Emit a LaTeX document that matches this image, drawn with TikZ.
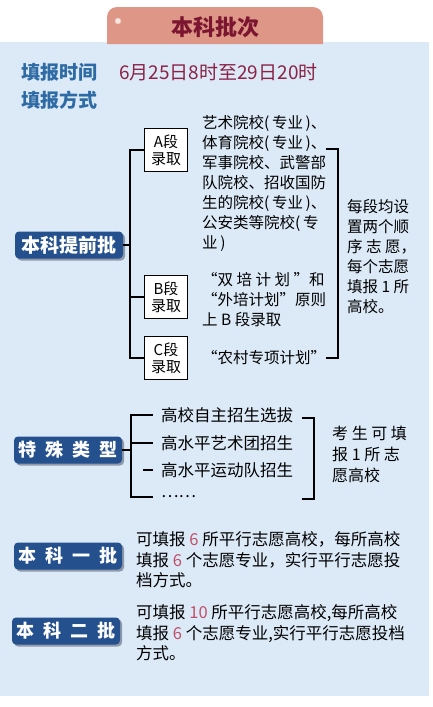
\documentclass[tikz,border=0pt]{standalone}
\usepackage{fontspec}
\setmainfont{Noto Sans CJK SC}
\usetikzlibrary{shadows}

\definecolor{panel}{HTML}{DCEAF8}
\definecolor{tabc}{HTML}{DE9686}
\definecolor{titlered}{HTML}{7B1530}
\definecolor{headblue}{HTML}{2E6BA5}
\definecolor{datered}{HTML}{8A2346}
\definecolor{boxblue}{HTML}{24508E}
\definecolor{shadowgray}{HTML}{8E99AA}
\definecolor{numred}{HTML}{C0506A}

\newcommand\gap{\hspace{9pt}}
\newcommand\num[1]{\textcolor{numred}{#1}}

\tikzset{
  lbl/.style={fill=boxblue, text=white, font=\fontsize{18}{20}\selectfont\bfseries,
    rounded corners=4pt, minimum width=108pt, minimum height=27pt, inner sep=0pt,
    drop shadow={shadow xshift=2pt, shadow yshift=-2pt, fill=shadowgray, opacity=1}},
  sel/.style={draw, line width=1.8pt, fill=white, align=center, inner sep=0pt,
    minimum width=43pt, minimum height=43pt, font=\fontsize{15}{17}\selectfont},
  txt/.style={anchor=west, align=left, inner sep=0pt, font=\fontsize{15.5}{20}\selectfont},
  item/.style={anchor=west, inner xsep=8pt, inner ysep=0pt, font=\fontsize{16.5}{20}\selectfont},
  brk/.style={line width=1.8pt}
}

\begin{document}
\begin{tikzpicture}[x=1pt, y=-1pt]
  \useasboundingbox (0,0) rectangle (432,707);
  \fill[panel] (0,42) rectangle (429,696);
  \fill[tabc] (107,44) [rounded corners=10pt] -- (107,7) -- (323,7) [sharp corners] -- (323,44) -- cycle;
  \filldraw[fill=white!75!tabc, draw=white!40!tabc] (118,21) circle (3pt);
  \node[font=\fontsize{22}{24}\selectfont\bfseries, text=titlered] (ttl) at (215,27) {本科批次};

  \node[anchor=west, inner sep=0pt, font=\fontsize{19}{20}\selectfont\bfseries, text=headblue] (time) at (21,72) {填报时间};
  \node[anchor=west, inner sep=0pt, font=\fontsize{19}{20}\selectfont, text=datered] (date) at (119,72) {6月25日8时至29日20时};
  \node[anchor=west, inner sep=0pt, font=\fontsize{19}{20}\selectfont\bfseries, text=headblue] (way) at (21,100) {填报方式};

  % early batch
  \node[lbl, font=\fontsize{19}{20}\selectfont\bfseries] (pre) at (69,245) {本科提前批};
  \node[sel] (A) at (166,150) {A段\\录取};
  \node[sel] (B) at (166,297) {B段\\录取};
  \node[sel] (C) at (166,358) {C段\\录取};
  \coordinate (p1) at (130,150);
  \coordinate (p3) at (130,358);
  \draw[brk] (A.west) -- (p1) -- (p3) -- (C.west);
  \draw[brk] (B.west) -- (B.west -| p1);
  \draw[brk] (pre.east) -- (pre.east -| p1);

  \node[txt] (atxt) at (202,183) {艺术院校(\,专业\,)、\\体育院校(\,专业\,)、\\军事院校、武警部\\队院校、招收国防\\生的院校(\,专业\,)、\\公安类等院校(\,专\\业\,)};
  \node[txt] (btxt) at (202,300) {“双 培 计 划 ”和\\“外培计划”原则\\上 B 段录取};
  \node[txt] (ctxt) at (202,358) {“农村专项计划”};
  \coordinate (qa) at (326,149);
  \coordinate (qb) at (338,149);
  \coordinate (qc) at (338,358);
  \coordinate (qd) at (326,358);
  \draw[brk] (qa) -- (qb) -- (qc) -- (qd);
  \node[txt] (rtxt) at (347,257) {每段均设\\置两个顺\\序 志 愿，\\每个志愿\\填报 1 所\\高校。};

  % special types
  \node[lbl] (spec) at (68,450) {特\gap 殊\gap 类\gap 型};
  \node[item] (s1) at (153,415) {高校自主招生选拔};
  \node[item] (s2) at (153,443) {高水平艺术团招生};
  \node[item] (s3) at (153,470) {高水平运动队招生};
  \node[item] (s4) at (153,497) {……};
  \coordinate (k1) at (131,415);
  \coordinate (k3) at (143,470);
  \coordinate (k4) at (131,497);
  \draw[brk] (s1.west) -- (k1) -- (k4) -- (s4.west);
  \draw[brk] (s2.west) -- (s2.west -| k1);
  \draw[line width=1.2pt] (k3) -- (s3.west);
  \draw[brk] (spec.east) -- (spec.east -| k1);
  \coordinate (m1) at (302,418);
  \coordinate (m2) at (314,418);
  \coordinate (m3) at (314,499);
  \coordinate (m4) at (302,499);
  \draw[brk] (m1) -- (m2) -- (m3) -- (m4);
  \node[txt, font=\fontsize{16}{21}\selectfont] (stxt) at (332,454) {考 生 可 填\\报 1 所 志\\愿高校};

  % batch one and two
  \node[lbl] (one) at (68,556) {本\gap 科\gap 一\gap 批};
  \node[txt, font=\fontsize{16.5}{20.5}\selectfont] (onetxt) at (136,560) {可填报 \num{6} 所平行志愿高校，每所高校\\填报 \num{6} 个志愿专业，实行平行志愿投\\档方式。};
  \node[lbl] (two) at (66,631) {本\gap 科\gap 二\gap 批};
  \node[txt, font=\fontsize{16.5}{20.5}\selectfont] (twotxt) at (136,633) {可填报 \num{10} 所平行志愿高校,每所高校\\填报 \num{6} 个志愿专业,实行平行志愿投档\\方式。};
\end{tikzpicture}
\end{document}
